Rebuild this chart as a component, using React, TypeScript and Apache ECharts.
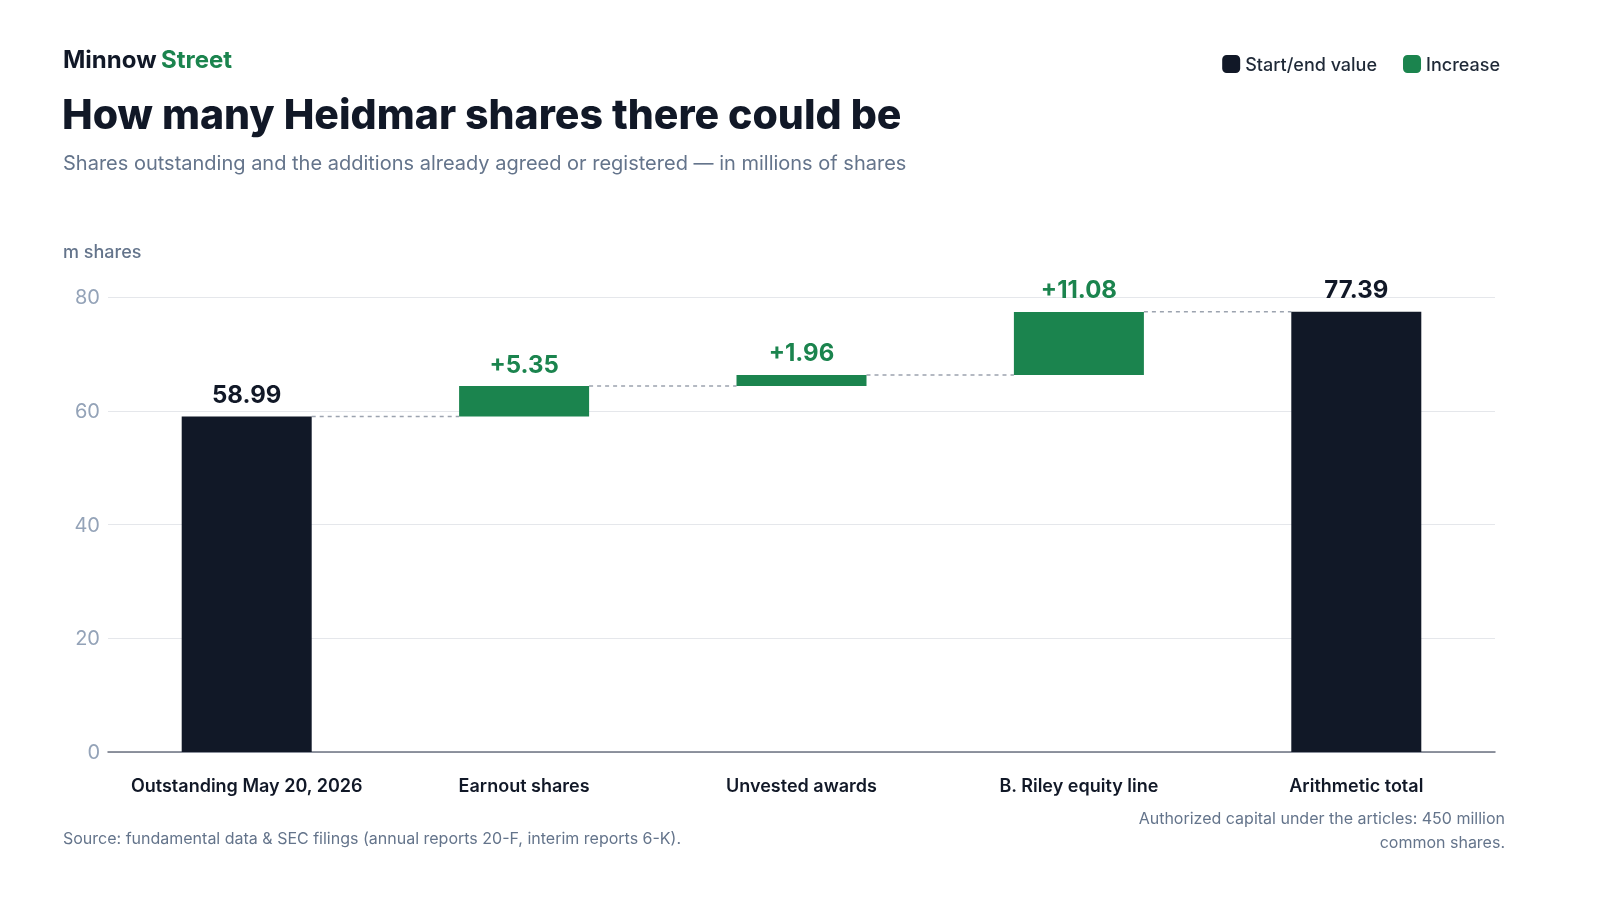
import { useEffect, useRef } from "react";
import * as echarts from "echarts";

const categories = ["Outstanding May 20, 2026", "Earnout shares", "Unvested awards", "B. Riley equity line", "Arithmetic total"];
const baseValues = [0, 58.99, 64.34, 66.3, 0];
const totalValues: (number | string)[] = [58.99, "-", "-", "-", 77.39];
const increaseValues: (number | string)[] = ["-", 5.35, 1.96, 11.08, "-"];
const connectorLevels = [58.99, 64.34, 66.3, 77.39];
const yTicks = [0, 20, 40, 60, 80];

const DARK = "#111827";
const GREEN = "#1b844e";
const FONT = "Inter, 'Noto Sans', sans-serif";

export default function App() {
  const chartRef = useRef<HTMLDivElement>(null);

  useEffect(() => {
    if (!chartRef.current) return;
    const chart = echarts.init(chartRef.current, undefined, { renderer: "svg" });
    const barWidth = 130;

    const option: echarts.EChartsOption = {
      animation: false,
      textStyle: { fontFamily: FONT },
      grid: { left: 108, right: 105, top: 297, bottom: 148 },
      legend: {
        right: 95,
        top: 50,
        itemWidth: 18,
        itemHeight: 18,
        itemGap: 26,
        icon: "roundRect",
        data: ["Start/end value", "Increase"],
        textStyle: { fontSize: 18, color: "#1f2937", fontWeight: 500, fontFamily: FONT },
      },
      xAxis: {
        type: "category",
        data: categories,
        axisTick: { show: false },
        axisLine: { lineStyle: { color: "#6b7280", width: 1.5 } },
        axisLabel: { interval: 0, fontSize: 18, fontWeight: 600, color: DARK, margin: 24, fontFamily: FONT },
      },
      yAxis: {
        type: "value",
        min: yTicks[0],
        max: yTicks[yTicks.length - 1],
        interval: 20,
        axisLabel: { fontSize: 20, color: "#94a3b8", margin: 8, fontFamily: FONT },
        splitLine: { lineStyle: { color: "#e5e7eb" } },
      },
      series: [
        {
          name: "base",
          type: "bar",
          stack: "w",
          barWidth,
          data: baseValues,
          itemStyle: { color: "transparent" },
          silent: true,
        },
        {
          name: "Start/end value",
          type: "bar",
          stack: "w",
          barWidth,
          data: totalValues as any,
          itemStyle: { color: DARK },
          label: {
            show: true,
            position: "top",
            distance: 10,
            fontSize: 24,
            fontWeight: 700,
            color: DARK,
            formatter: (p: any) => Number(p.value).toFixed(2),
          },
        },
        {
          name: "Increase",
          type: "bar",
          stack: "w",
          barWidth,
          data: increaseValues as any,
          itemStyle: { color: GREEN },
          label: {
            show: true,
            position: "top",
            distance: 10,
            fontSize: 24,
            fontWeight: 700,
            color: GREEN,
            formatter: (p: any) => "+" + Number(p.value).toFixed(2),
          },
        },
        {
          type: "custom",
          data: connectorLevels.map((v, i) => [i, v]),
          z: 1,
          renderItem: (params: any, api: any) => {
            const i = api.value(0);
            const v = api.value(1);
            const a = api.coord([i, v]);
            const b = api.coord([i + 1, v]);
            return {
              type: "line",
              shape: { x1: a[0] + barWidth / 2, y1: a[1], x2: b[0] - barWidth / 2, y2: b[1] },
              style: { stroke: "#9ca3af", lineWidth: 1.5, lineDash: [4, 4] },
            };
          },
        } as any,
      ],
      graphic: [
        { type: "text", left: 63, top: 47, style: { text: "Minnow", fontSize: 24, fontWeight: 700, fill: DARK, fontFamily: FONT } },
        { type: "text", left: 161, top: 47, style: { text: "Street", fontSize: 24, fontWeight: 700, fill: GREEN, fontFamily: FONT } },
        { type: "text", left: 62, top: 93, style: { text: "How many Heidmar shares there could be", fontSize: 41, fontWeight: 800, fill: DARK, fontFamily: FONT } },
        { type: "text", left: 63, top: 153, style: { text: "Shares outstanding and the additions already agreed or registered — in millions of shares", fontSize: 20, fill: "#64748b", fontFamily: FONT } },
        { type: "text", left: 63, top: 242, style: { text: "m shares", fontSize: 18, fontWeight: 500, fill: "#64748b", fontFamily: FONT } },
        { type: "text", left: 63, top: 830, style: { text: "Source: fundamental data & SEC filings (annual reports 20-F, interim reports 6-K).", fontSize: 16, fill: "#64748b", fontFamily: FONT } },
        { type: "text", x: 1505, y: 806, style: { text: "Authorized capital under the articles: 450 million\ncommon shares.", fontSize: 16, lineHeight: 24, align: "right", verticalAlign: "top", fill: "#64748b", fontFamily: FONT } },
      ],
    };

    chart.setOption(option);
    return () => chart.dispose();
  }, []);

  return <div ref={chartRef} style={{ position: "fixed", left: 0, top: 0, width: 1600, height: 900 }} />;
}
